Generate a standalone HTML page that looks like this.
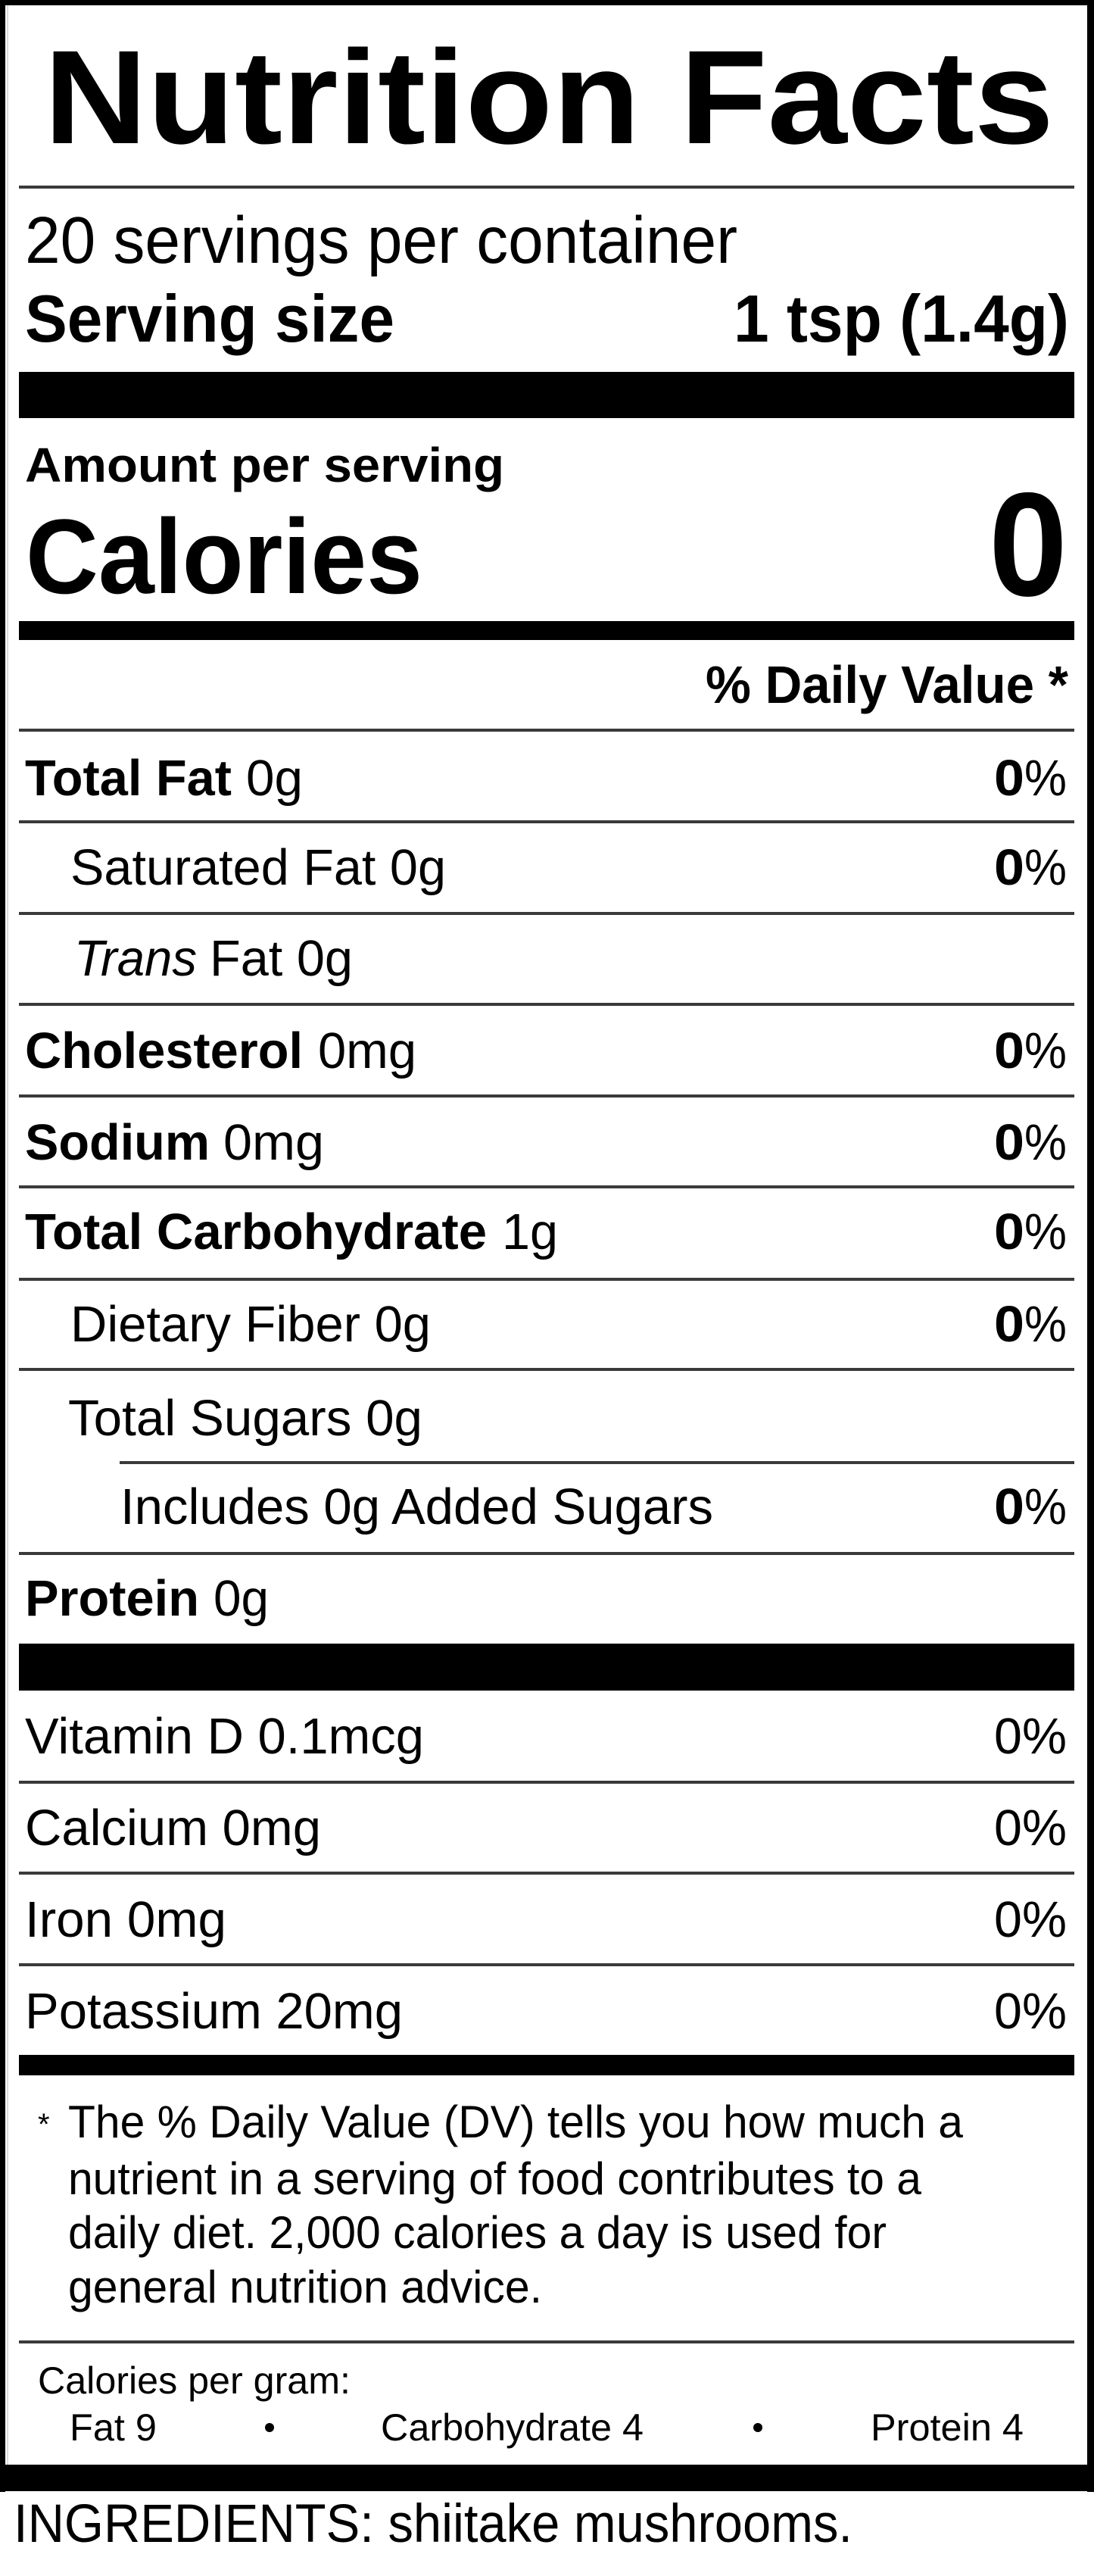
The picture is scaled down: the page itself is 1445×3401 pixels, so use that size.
<!DOCTYPE html>
<html>
<head>
<meta charset="utf-8">
<style>
  html, body { margin: 0; padding: 0; background: #fff; }
  body { width: 1445px; height: 3401px; overflow: hidden; }
  svg { display: block; }
  text { font-family: "Liberation Sans", Arial, Helvetica, sans-serif; fill: #000; }
  .b { font-weight: bold; }
</style>
</head>
<body>
<svg width="1445" height="3401" viewBox="0 0 1445 3401" xmlns="http://www.w3.org/2000/svg">
  <rect x="0" y="0" width="1445" height="3401" fill="#fff"/>

  <!-- outer border -->
  <rect x="0" y="0" width="1445" height="7" fill="#000"/>
  <rect x="0" y="0" width="7" height="3290" fill="#000"/>
  <rect x="1436" y="0" width="9" height="3290" fill="#000"/>
  <rect x="0" y="3254" width="1445" height="35" fill="#000"/>
  <rect x="9" y="7" width="2" height="3247" fill="#ddd"/>

  <!-- Title -->
  <text class="b" x="58" y="189" font-size="176" textLength="1334" lengthAdjust="spacingAndGlyphs">Nutrition Facts</text>
  <rect x="25" y="245" width="1394" height="4" fill="#3a3a3a"/>

  <text x="33" y="347" font-size="87" textLength="941" lengthAdjust="spacingAndGlyphs">20 servings per container</text>
  <text class="b" x="33" y="451" font-size="88" textLength="488" lengthAdjust="spacingAndGlyphs">Serving size</text>
  <text class="b" x="969" y="451" font-size="88" textLength="443" lengthAdjust="spacingAndGlyphs">1 tsp (1.4g)</text>

  <rect x="25" y="491" width="1394" height="61" fill="#000"/>

  <text class="b" x="33" y="636" font-size="64" textLength="633" lengthAdjust="spacingAndGlyphs">Amount per serving</text>
  <text class="b" x="34" y="783" font-size="140" textLength="524" lengthAdjust="spacingAndGlyphs">Calories</text>
  <text class="b" x="1306" y="786" font-size="195" textLength="104" lengthAdjust="spacingAndGlyphs">0</text>

  <rect x="25" y="820" width="1394" height="25" fill="#000"/>

  <text class="b" x="932" y="928" font-size="70" textLength="479" lengthAdjust="spacingAndGlyphs">% Daily Value *</text>
  <rect x="25" y="962" width="1394" height="4" fill="#3a3a3a"/>

  <!-- Total Fat -->
  <text class="b" x="33" y="1050" font-size="67" textLength="273" lengthAdjust="spacingAndGlyphs">Total Fat</text>
  <text x="325" y="1050" font-size="67" textLength="75" lengthAdjust="spacingAndGlyphs">0g</text>
  <text class="b" x="1313" y="1050" font-size="67" textLength="40" lengthAdjust="spacingAndGlyphs">0</text>
  <text x="1353" y="1050" font-size="67" textLength="56" lengthAdjust="spacingAndGlyphs">%</text>
  <rect x="25" y="1083" width="1394" height="4" fill="#3a3a3a"/>

  <!-- Saturated Fat -->
  <text x="93" y="1168" font-size="67" textLength="496" lengthAdjust="spacingAndGlyphs">Saturated Fat 0g</text>
  <text class="b" x="1313" y="1168" font-size="67" textLength="40" lengthAdjust="spacingAndGlyphs">0</text>
  <text x="1353" y="1168" font-size="67" textLength="56" lengthAdjust="spacingAndGlyphs">%</text>
  <rect x="25" y="1204" width="1394" height="4" fill="#3a3a3a"/>

  <!-- Trans Fat -->
  <text x="98" y="1288" font-size="67" font-style="italic" textLength="162" lengthAdjust="spacingAndGlyphs">Trans</text>
  <text x="277" y="1288" font-size="67" textLength="189" lengthAdjust="spacingAndGlyphs">Fat 0g</text>
  <rect x="25" y="1324" width="1394" height="4" fill="#3a3a3a"/>

  <!-- Cholesterol -->
  <text class="b" x="33" y="1410" font-size="67" textLength="367" lengthAdjust="spacingAndGlyphs">Cholesterol</text>
  <text x="420" y="1410" font-size="67" textLength="130" lengthAdjust="spacingAndGlyphs">0mg</text>
  <text class="b" x="1313" y="1410" font-size="67" textLength="40" lengthAdjust="spacingAndGlyphs">0</text>
  <text x="1353" y="1410" font-size="67" textLength="56" lengthAdjust="spacingAndGlyphs">%</text>
  <rect x="25" y="1445" width="1394" height="4" fill="#3a3a3a"/>

  <!-- Sodium -->
  <text class="b" x="33" y="1531" font-size="67" textLength="244" lengthAdjust="spacingAndGlyphs">Sodium</text>
  <text x="295" y="1531" font-size="67" textLength="133" lengthAdjust="spacingAndGlyphs">0mg</text>
  <text class="b" x="1313" y="1531" font-size="67" textLength="40" lengthAdjust="spacingAndGlyphs">0</text>
  <text x="1353" y="1531" font-size="67" textLength="56" lengthAdjust="spacingAndGlyphs">%</text>
  <rect x="25" y="1565" width="1394" height="4" fill="#3a3a3a"/>

  <!-- Total Carbohydrate -->
  <text class="b" x="33" y="1649" font-size="67" textLength="610" lengthAdjust="spacingAndGlyphs">Total Carbohydrate</text>
  <text x="663" y="1649" font-size="67" textLength="74" lengthAdjust="spacingAndGlyphs">1g</text>
  <text class="b" x="1313" y="1649" font-size="67" textLength="40" lengthAdjust="spacingAndGlyphs">0</text>
  <text x="1353" y="1649" font-size="67" textLength="56" lengthAdjust="spacingAndGlyphs">%</text>
  <rect x="25" y="1687" width="1394" height="4" fill="#3a3a3a"/>

  <!-- Dietary Fiber -->
  <text x="93" y="1771" font-size="67" textLength="476" lengthAdjust="spacingAndGlyphs">Dietary Fiber 0g</text>
  <text class="b" x="1313" y="1771" font-size="67" textLength="40" lengthAdjust="spacingAndGlyphs">0</text>
  <text x="1353" y="1771" font-size="67" textLength="56" lengthAdjust="spacingAndGlyphs">%</text>
  <rect x="25" y="1806" width="1394" height="4" fill="#3a3a3a"/>

  <!-- Total Sugars -->
  <text x="90" y="1895" font-size="67" textLength="468" lengthAdjust="spacingAndGlyphs">Total Sugars 0g</text>
  <rect x="158" y="1929" width="1261" height="4" fill="#3a3a3a"/>

  <!-- Added Sugars -->
  <text x="159" y="2012" font-size="67" textLength="783" lengthAdjust="spacingAndGlyphs">Includes 0g Added Sugars</text>
  <text class="b" x="1313" y="2012" font-size="67" textLength="40" lengthAdjust="spacingAndGlyphs">0</text>
  <text x="1353" y="2012" font-size="67" textLength="56" lengthAdjust="spacingAndGlyphs">%</text>
  <rect x="25" y="2049" width="1394" height="4" fill="#3a3a3a"/>

  <!-- Protein -->
  <text class="b" x="33" y="2133" font-size="67" textLength="230" lengthAdjust="spacingAndGlyphs">Protein</text>
  <text x="282" y="2133" font-size="67" textLength="73" lengthAdjust="spacingAndGlyphs">0g</text>

  <rect x="25" y="2170" width="1394" height="62" fill="#000"/>

  <!-- Vitamins -->
  <text x="33" y="2315" font-size="67" textLength="527" lengthAdjust="spacingAndGlyphs">Vitamin D 0.1mcg</text>
  <text x="1313" y="2315" font-size="67" textLength="96" lengthAdjust="spacingAndGlyphs">0%</text>
  <rect x="25" y="2351" width="1394" height="4" fill="#3a3a3a"/>

  <text x="33" y="2436" font-size="67" textLength="391" lengthAdjust="spacingAndGlyphs">Calcium 0mg</text>
  <text x="1313" y="2436" font-size="67" textLength="96" lengthAdjust="spacingAndGlyphs">0%</text>
  <rect x="25" y="2471" width="1394" height="4" fill="#3a3a3a"/>

  <text x="33" y="2557" font-size="67" textLength="266" lengthAdjust="spacingAndGlyphs">Iron 0mg</text>
  <text x="1313" y="2557" font-size="67" textLength="96" lengthAdjust="spacingAndGlyphs">0%</text>
  <rect x="25" y="2592" width="1394" height="4" fill="#3a3a3a"/>

  <text x="33" y="2678" font-size="67" textLength="499" lengthAdjust="spacingAndGlyphs">Potassium 20mg</text>
  <text x="1313" y="2678" font-size="67" textLength="96" lengthAdjust="spacingAndGlyphs">0%</text>

  <rect x="25" y="2713" width="1394" height="27" fill="#000"/>

  <!-- Footnote -->
  <text x="50" y="2818" font-size="40">*</text>
  <text x="90" y="2822" font-size="60" textLength="1182" lengthAdjust="spacingAndGlyphs">The % Daily Value (DV) tells you how much a</text>
  <text x="90" y="2897" font-size="60" textLength="1127" lengthAdjust="spacingAndGlyphs">nutrient in a serving of food contributes to a</text>
  <text x="90" y="2968" font-size="60" textLength="1081" lengthAdjust="spacingAndGlyphs">daily diet. 2,000 calories a day is used for</text>
  <text x="90" y="3040" font-size="60" textLength="626" lengthAdjust="spacingAndGlyphs">general nutrition advice.</text>

  <rect x="25" y="3090" width="1394" height="4" fill="#3a3a3a"/>

  <text x="50" y="3160" font-size="50" textLength="413" lengthAdjust="spacingAndGlyphs">Calories per gram:</text>
  <text x="92" y="3222" font-size="50" textLength="115" lengthAdjust="spacingAndGlyphs">Fat 9</text>
  <circle cx="356" cy="3205" r="6" fill="#000"/>
  <text x="503" y="3222" font-size="50" textLength="347" lengthAdjust="spacingAndGlyphs">Carbohydrate 4</text>
  <circle cx="1001" cy="3205" r="6" fill="#000"/>
  <text x="1150" y="3222" font-size="50" textLength="202" lengthAdjust="spacingAndGlyphs">Protein 4</text>

  <!-- Ingredients -->
  <text x="18" y="3356" font-size="71" textLength="1108" lengthAdjust="spacingAndGlyphs">INGREDIENTS: shiitake mushrooms.</text>
</svg>
</body>
</html>
